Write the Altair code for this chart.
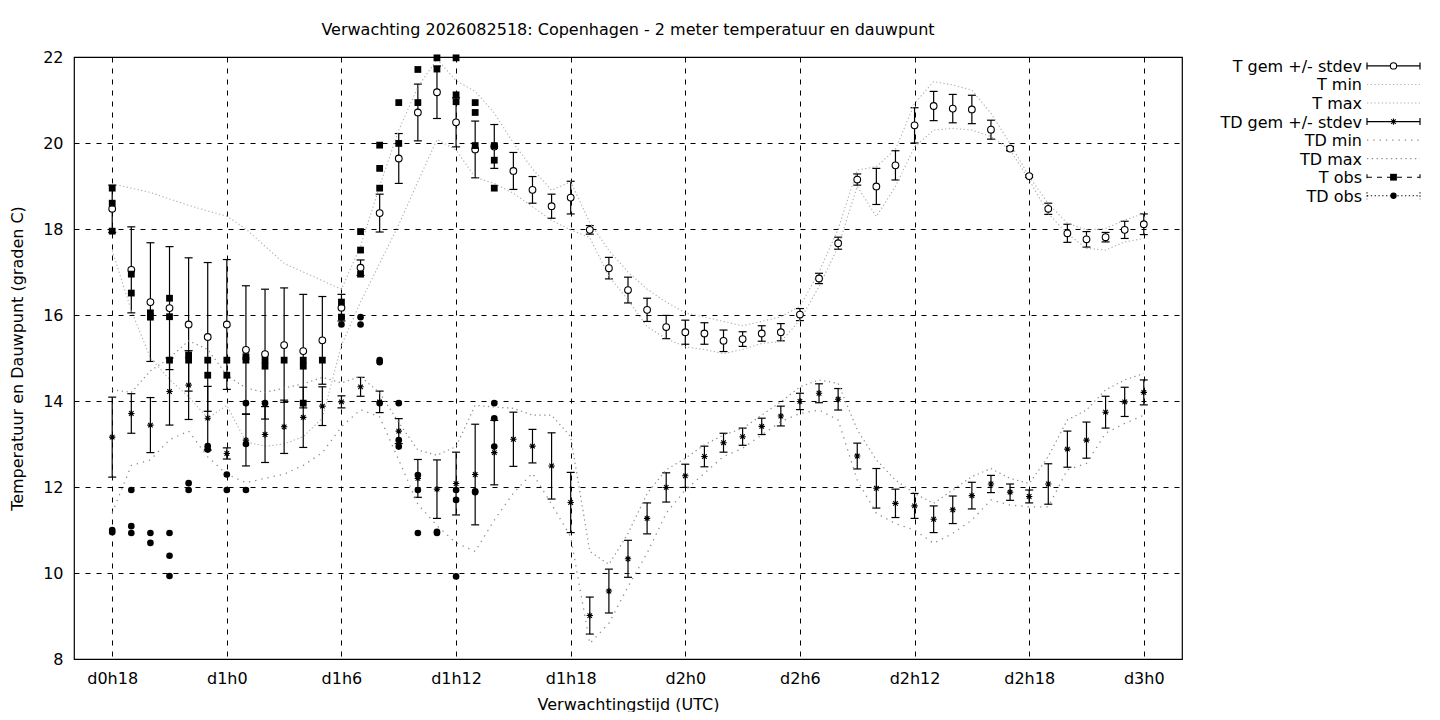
import altair as alt
import pandas as pd

FONT = "DejaVu Sans"
FS = 16

hours = list(range(18, 73))

t_mean = [18.47, 17.05, 16.30, 16.16, 15.78, 15.49, 15.78, 15.19, 15.09, 15.30,
          15.16, 15.41, 16.17, 17.10, 18.37, 19.64, 20.71, 21.18, 20.48, 19.85,
          19.92, 19.35, 18.91, 18.53, 18.73, 17.98, 17.09, 16.58, 16.12, 15.72,
          15.60, 15.57, 15.40, 15.44, 15.57, 15.60, 16.01, 16.85, 17.67, 19.15,
          18.99, 19.48, 20.41, 20.86, 20.80, 20.78, 20.31, 19.87, 19.23, 18.47,
          17.90, 17.76, 17.81, 17.98, 18.11]
t_sd = [0.55, 1.00, 1.38, 1.43, 1.55, 1.73, 1.51, 1.49, 1.51, 1.33,
        1.32, 1.02, 0.31, 0.18, 0.44, 0.58, 0.66, 0.61, 0.57, 0.66,
        0.51, 0.43, 0.31, 0.28, 0.38, 0.10, 0.25, 0.30, 0.27, 0.27,
        0.28, 0.25, 0.25, 0.17, 0.18, 0.20, 0.14, 0.12, 0.14, 0.13,
        0.42, 0.34, 0.41, 0.34, 0.33, 0.33, 0.22, 0.05, 0.03, 0.13,
        0.21, 0.18, 0.11, 0.20, 0.24]
t_min = [17.50, 16.10, 15.00, 14.50, 14.10, 13.60, 13.90, 13.05, 12.95, 13.00,
         13.17, 13.60, 15.30, 16.30, 17.20, 18.10, 19.10, 20.08, 19.84, 19.20,
         19.06, 18.83, 18.52, 18.20, 17.98, 17.80, 16.90, 16.35, 15.73, 15.45,
         15.26, 15.20, 15.10, 15.20, 15.34, 15.38, 15.88, 16.66, 17.59, 18.99,
         18.29, 18.99, 19.91, 20.30, 20.34, 20.30, 20.15, 19.84, 19.14, 18.36,
         17.89, 17.55, 17.51, 17.70, 17.78]
t_max = [19.05, 18.95, 18.85, 18.70, 18.55, 18.42, 18.30, 18.00, 17.60, 17.20,
         17.00, 16.80, 16.60, 17.60, 19.00, 20.30, 21.30, 21.95, 21.45, 21.20,
         20.70, 20.00, 19.40, 18.90, 19.10, 18.15, 17.50, 17.00, 16.60, 16.30,
         16.05, 15.95, 15.85, 15.75, 15.85, 15.96, 16.20, 17.00, 18.00, 19.37,
         19.45, 19.85, 20.92, 21.43, 21.35, 21.23, 20.69, 19.99, 19.22, 18.59,
         18.13, 17.98, 18.01, 18.21, 18.36]

td_mean = [13.16, 13.71, 13.44, 14.22, 14.37, 13.60, 12.78, 13.09, 13.22, 13.40,
           13.62, 13.88, 13.98, 14.33, 13.98, 13.30, 12.20, 11.95, 12.08, 12.29,
           12.80, 13.11, 12.95, 12.49, 11.64, 9.01, 9.58, 10.33, 11.27, 11.99,
           12.26, 12.71, 13.03, 13.17, 13.41, 13.65, 13.99, 14.18, 14.04, 12.72,
           11.97, 11.62, 11.56, 11.25, 11.47, 11.80, 12.07, 11.88, 11.78, 12.07,
           12.88, 13.09, 13.74, 13.98, 14.20]
td_sd = [0.93, 0.46, 0.64, 0.78, 0.80, 0.74, 0.13, 0.60, 0.65, 0.62,
         0.70, 0.45, 0.14, 0.22, 0.25, 0.29, 0.44, 0.68, 0.73, 1.17,
         0.75, 0.63, 0.39, 0.77, 0.70, 0.43, 0.51, 0.43, 0.36, 0.34,
         0.27, 0.24, 0.22, 0.20, 0.19, 0.23, 0.19, 0.22, 0.25, 0.30,
         0.46, 0.33, 0.29, 0.31, 0.32, 0.31, 0.20, 0.19, 0.15, 0.47,
         0.42, 0.42, 0.37, 0.34, 0.29]
td_min = [11.40, 12.50, 12.63, 13.10, 13.30, 12.70, 12.30, 12.10, 12.20, 12.30,
          12.50, 12.80, 13.40, 13.80, 13.63, 12.63, 11.60, 11.10, 10.70, 10.50,
          11.23, 11.86, 12.32, 11.60, 10.84, 8.36, 8.83, 9.68, 10.46, 11.39,
          11.93, 12.32, 12.71, 12.90, 13.21, 13.52, 13.71, 13.79, 13.56, 12.16,
          11.39, 11.15, 11.00, 10.69, 10.92, 11.23, 11.70, 11.58, 11.54, 11.54,
          12.40, 12.55, 13.25, 13.48, 13.67]
td_max = [14.26, 14.20, 14.70, 15.00, 15.40, 15.20, 14.60, 14.30, 14.20, 14.30,
          14.40, 14.55, 14.42, 14.57, 14.19, 13.50, 12.86, 12.74, 12.94, 13.90,
          13.86, 13.83, 13.67, 13.67, 13.17, 10.50, 10.20, 10.92, 11.85, 12.40,
          12.67, 12.98, 13.21, 13.36, 13.67, 13.98, 14.33, 14.49, 14.41, 13.33,
          12.63, 12.16, 11.85, 11.62, 11.93, 12.24, 12.43, 12.20, 12.08, 12.71,
          13.56, 13.79, 14.26, 14.49, 14.64]

t_obs_hour = [18, 18, 18, 19, 19, 20, 20, 21, 21, 21, 22, 22, 23, 23, 24, 24,
              25, 25, 26, 26, 27, 28, 28, 28, 29, 30, 30, 31, 31, 31, 32, 32, 32,
              33, 33, 34, 34, 35, 35, 36, 36, 36, 37, 37, 37, 38, 38, 38]
t_obs_val = [18.95, 18.60, 17.95, 16.95, 16.51, 16.05, 15.95, 16.39, 15.96, 14.95,
             15.07, 14.95, 14.95, 14.60, 14.95, 14.60, 15.03, 14.95, 14.95, 14.81,
             14.95, 14.95, 14.81, 13.95, 14.95, 16.30, 15.95, 17.94, 17.51, 16.95,
             19.95, 19.41, 18.95, 20.94, 19.99, 21.71, 20.94, 21.98, 21.72, 21.98,
             21.12, 20.96, 20.94, 20.71, 19.94, 19.94, 19.60, 18.95]

td_obs_hour = [18, 18, 19, 19, 19, 20, 20, 21, 21, 21, 22, 22, 23, 23, 24, 24,
               25, 25, 25, 26, 30, 30, 31, 31, 32, 32, 32, 33, 33, 33, 34, 34, 34,
               35, 35, 36, 36, 36, 37, 37, 38, 38, 38]
td_obs_val = [11.00, 10.95, 11.93, 11.09, 10.93, 10.93, 10.70, 10.93, 10.40, 9.93,
              12.09, 11.93, 12.95, 12.87, 12.29, 11.93, 13.95, 13.00, 11.93, 13.95,
              15.95, 15.78, 15.95, 15.78, 14.95, 14.90, 13.95, 13.95, 13.09, 12.94,
              12.28, 11.93, 10.93, 10.96, 10.93, 11.93, 11.70, 9.92, 11.90, 11.88,
              13.95, 13.60, 12.94]

x_tick_values = [18, 24, 30, 36, 42, 48, 54, 60, 66, 72]
x_tick_labels = ["d0h18", "d1h0", "d1h6", "d1h12", "d1h18", "d2h0", "d2h6",
                 "d2h12", "d2h18", "d3h0"]
y_tick_values = [8, 10, 12, 14, 16, 18, 20, 22]

legend_labels = ["T gem +/- stdev", "T min", "T max", "TD gem +/- stdev",
                 "TD min", "TD max", "T obs", "TD obs"]

title_text = "Verwachting 2026082518: Copenhagen - 2 meter temperatuur en dauwpunt"
x_title = "Verwachtingstijd (UTC)"
y_title = "Temperatuur en Dauwpunt (graden C)"

# ---------------- data frames ----------------
df = pd.DataFrame({
    "h": hours,
    "t": t_mean, "tsd": t_sd, "tmin": t_min, "tmax": t_max,
    "td": td_mean, "tdsd": td_sd, "tdmin": td_min, "tdmax": td_max,
})
df["tlo"] = df["t"] - df["tsd"]
df["thi"] = df["t"] + df["tsd"]
df["tdlo"] = df["td"] - df["tdsd"]
df["tdhi"] = df["td"] + df["tdsd"]

tobs = pd.DataFrame({"h": t_obs_hour, "v": t_obs_val})
tdobs = pd.DataFrame({"h": td_obs_hour, "v": td_obs_val})

W, H = 1108, 602

label_expr = "''"
for v, l in reversed(list(zip(x_tick_values, x_tick_labels))):
    label_expr = f"datum.value == {v} ? '{l}' : ({label_expr})"

xs = alt.Scale(domain=[16, 74], nice=False, zero=False)
ys = alt.Scale(domain=[8, 22], nice=False, zero=False)

grid_kw = dict(grid=True, gridColor="black", gridDash=[5, 6], gridWidth=1,
               gridOpacity=1, ticks=False, domain=False,
               labelFont=FONT, labelFontSize=FS, labelColor="black",
               titleFont=FONT, titleFontSize=FS, titleFontWeight="normal",
               titleColor="black")

x_axis = alt.Axis(values=x_tick_values, labelExpr=label_expr, labelPadding=11,
                  title=x_title, titlePadding=10, **grid_kw)
y_axis = alt.Axis(values=y_tick_values, labelPadding=11, title=y_title,
                  titlePadding=17, **grid_kw)


def ex(field="h"):
    return alt.X(f"{field}:Q", scale=xs, axis=x_axis, title=x_title)


def ey(field):
    return alt.Y(f"{field}:Q", scale=ys, axis=y_axis, title=y_title)


base = alt.Chart(df)

T_LINE = "#b0b0b0"
TD_LINE = "#8c8c8c"
CAP = 8

STAR = "M-1,0L1,0M0,-1L0,1M-0.72,-0.72L0.72,0.72M-0.72,0.72L0.72,-0.72"

layers = []
# T mean errorbars
layers.append(base.mark_rule(color="black", strokeWidth=1.2).encode(
    x=ex(), y=ey("tlo"), y2="thi:Q"))
for f in ("tlo", "thi"):
    layers.append(base.mark_tick(orient="horizontal", size=CAP, thickness=1.2,
                                 color="black", opacity=1).encode(x=ex(), y=ey(f)))
# T min/max dotted
for f in ("tmin", "tmax"):
    layers.append(base.mark_line(color=T_LINE, strokeDash=[1.3, 2.4], strokeWidth=1.1).encode(
        x=ex(), y=ey(f)))
# T mean circles
layers.append(base.mark_point(shape="circle", filled=True, fill="white", stroke="black",
                              strokeWidth=1.1, size=45, opacity=1).encode(
    x=ex(), y=ey("t")))
# TD errorbars
layers.append(base.mark_rule(color="black", strokeWidth=1.2).encode(
    x=ex(), y=ey("tdlo"), y2="tdhi:Q"))
for f in ("tdlo", "tdhi"):
    layers.append(base.mark_tick(orient="horizontal", size=CAP, thickness=1.2,
                                 color="black", opacity=1).encode(x=ex(), y=ey(f)))
# TD min/max dotted
layers.append(base.mark_line(color=TD_LINE, strokeDash=[1.3, 5], strokeWidth=1.3).encode(
    x=ex(), y=ey("tdmin")))
layers.append(base.mark_line(color=TD_LINE, strokeDash=[1.3, 3.5], strokeWidth=1.2).encode(
    x=ex(), y=ey("tdmax")))
# TD stars
layers.append(base.mark_point(shape=STAR, filled=False, stroke="black", strokeWidth=1.1,
                              size=40, opacity=1).encode(x=ex(), y=ey("td")))
# observations
layers.append(alt.Chart(tobs).mark_square(color="black", size=46, opacity=1).encode(
    x=ex(), y=ey("v")))
layers.append(alt.Chart(tdobs).mark_circle(color="black", size=44, opacity=1).encode(
    x=ex(), y=ey("v")))

# ---------------- legend (layout, in pixels) ----------------
one = pd.DataFrame({"k": [0]})
LX_TEXT = 1288
LX0, LX1 = 1293, 1346
LXC = (LX0 + LX1) / 2
row_y = [8.9 + 18.55 * i for i in range(len(legend_labels))]

for i, lab in enumerate(legend_labels):
    yy = row_y[i]
    lc = alt.Chart(one)
    layers.append(lc.mark_text(align="right", baseline="middle", font=FONT,
                               fontSize=FS, color="black").encode(
        x=alt.value(LX_TEXT), y=alt.value(yy + 1), text=alt.value(lab)))
    if i in (0, 3):
        layers.append(lc.mark_rule(color="black", strokeWidth=1.2).encode(
            x=alt.value(LX0), x2=alt.value(LX1), y=alt.value(yy)))
        for xx in (LX0, LX1):
            layers.append(lc.mark_rule(color="black", strokeWidth=1.2).encode(
                x=alt.value(xx), y=alt.value(yy - 3.5), y2=alt.value(yy + 3.5)))
        if i == 0:
            layers.append(lc.mark_point(shape="circle", filled=True, fill="white",
                                        stroke="black", strokeWidth=1.1, size=40,
                                        opacity=1).encode(
                x=alt.value(LXC), y=alt.value(yy)))
        else:
            layers.append(lc.mark_point(shape=STAR, filled=False, stroke="black",
                                        strokeWidth=1.1, size=40, opacity=1).encode(
                x=alt.value(LXC), y=alt.value(yy)))
    elif i in (1, 2):
        layers.append(lc.mark_rule(color=T_LINE, strokeDash=[1.3, 2.4], strokeWidth=1.1).encode(
            x=alt.value(LX0), x2=alt.value(LX1), y=alt.value(yy)))
    elif i == 4:
        layers.append(lc.mark_rule(color=TD_LINE, strokeDash=[1.3, 5], strokeWidth=1.3).encode(
            x=alt.value(LX0), x2=alt.value(LX1), y=alt.value(yy)))
    elif i == 5:
        layers.append(lc.mark_rule(color=TD_LINE, strokeDash=[1.3, 3.5], strokeWidth=1.2).encode(
            x=alt.value(LX0), x2=alt.value(LX1), y=alt.value(yy)))
    elif i == 6:
        layers.append(lc.mark_rule(color="black", strokeDash=[5, 5], strokeWidth=1.1).encode(
            x=alt.value(LX0), x2=alt.value(LX1), y=alt.value(yy)))
        for xx in (LX0, LX1):
            layers.append(lc.mark_rule(color="black", strokeWidth=1.1).encode(
                x=alt.value(xx), y=alt.value(yy - 3), y2=alt.value(yy + 1)))
        layers.append(lc.mark_square(color="black", size=46, opacity=1).encode(
            x=alt.value(LXC), y=alt.value(yy)))
    else:
        layers.append(lc.mark_rule(color="black", strokeDash=[1.3, 2.5], strokeWidth=1.1).encode(
            x=alt.value(LX0), x2=alt.value(LX1), y=alt.value(yy)))
        for xx in (LX0, LX1):
            layers.append(lc.mark_rule(color="black", strokeDash=[1.3, 2], strokeWidth=1.1).encode(
                x=alt.value(xx), y=alt.value(yy - 3.5), y2=alt.value(yy + 3.5)))
        layers.append(lc.mark_circle(color="black", size=40, opacity=1).encode(
            x=alt.value(LXC), y=alt.value(yy)))

chart = alt.layer(*layers).properties(
    width=W, height=H,
    background="white",
    title=alt.TitleParams(title_text, font=FONT, fontSize=FS, fontWeight="normal",
                          color="black", anchor="middle", offset=11),
    autosize=alt.AutoSizeParams(type="none"),
    padding={"left": 66, "top": 49, "right": 250, "bottom": 53},
).configure_view(stroke="black", strokeWidth=1.2)

chart.save("out.html", embed_options={"renderer": "svg", "actions": False})
